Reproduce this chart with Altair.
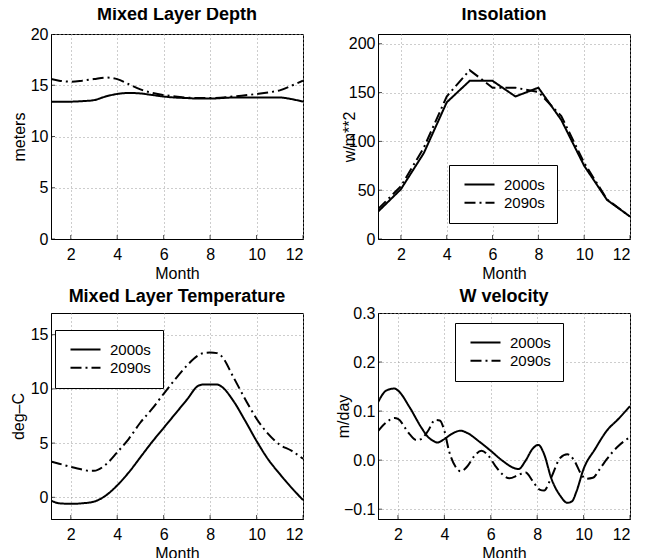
import altair as alt
import pandas as pd

SERIES = ["2000s", "2090s"]

# Mixed Layer Depth (meters)
mld_m_2000 = [1.15, 1.5, 2, 2.5, 3, 3.5, 4, 4.5, 5, 5.5, 6, 6.5, 7, 7.5, 8, 9, 10, 11, 11.5, 12]
mld_v_2000 = [13.4, 13.4, 13.4, 13.45, 13.55, 13.9, 14.15, 14.25, 14.2, 14.05, 13.9, 13.8, 13.75, 13.7, 13.7, 13.8, 13.8, 13.8, 13.65, 13.4]
mld_m_2090 = [1.15, 1.5, 2, 2.5, 3, 3.5, 4, 4.5, 5, 5.5, 6, 6.5, 7, 7.5, 8, 9, 10, 10.5, 11, 11.5, 12]
mld_v_2090 = [15.6, 15.45, 15.35, 15.45, 15.6, 15.75, 15.6, 15.1, 14.6, 14.25, 14.05, 13.9, 13.8, 13.75, 13.75, 13.9, 14.15, 14.3, 14.5, 14.95, 15.45]

# Insolation (w/m**2), monthly
ins_m = [1, 2, 3, 4, 5, 6, 7, 8, 9, 10, 11, 12]
ins_v_2000 = [28, 51, 88, 140, 162, 162, 146, 155, 122, 75, 40, 23]
ins_v_2090 = [30.6, 54, 93.5, 146, 173, 155, 155, 150.5, 126, 78, 40.5, 23]

# Mixed Layer Temperature (deg-C)
mlt_m_2000 = [1.15, 1.5, 2, 2.5, 3, 3.5, 4, 4.5, 5, 5.5, 6, 6.5, 7, 7.5, 7.7, 8, 8.3, 8.5, 9, 9.5, 10, 10.5, 11, 11.5, 12]
mlt_v_2000 = [-0.3, -0.55, -0.6, -0.55, -0.4, 0.15, 1.1, 2.3, 3.7, 5.1, 6.4, 7.7, 9.0, 10.3, 10.4, 10.4, 10.4, 10.2, 8.9, 7.1, 5.2, 3.5, 2.15, 0.9, -0.25]
mlt_m_2090 = [1.15, 1.5, 2, 2.5, 2.8, 3, 3.5, 4, 4.5, 5, 5.5, 6, 6.5, 7, 7.5, 7.7, 8, 8.3, 8.5, 9, 9.5, 10, 10.5, 11, 11.5, 12]
mlt_v_2090 = [3.3, 3.1, 2.8, 2.55, 2.45, 2.45, 3.0, 4.15, 5.4, 6.9, 8.15, 9.55, 10.9, 12.15, 13.1, 13.3, 13.35, 13.3, 13.0, 11.1, 9.1, 7.25, 5.85, 4.85, 4.3, 3.55]

# W velocity (m/day)
w_m_2000 = [1.14, 1.5, 1.85, 2, 2.5, 3, 3.3, 3.5, 3.7, 4, 4.3, 4.7, 5, 5.5, 6, 6.5, 7, 7.2, 7.5, 7.8, 8.05, 8.3, 8.6, 9, 9.3, 9.5, 9.7, 10, 10.5, 11, 11.5, 12]
w_v_2000 = [0.118, 0.142, 0.146, 0.142, 0.108, 0.067, 0.047, 0.040, 0.036, 0.043, 0.053, 0.060, 0.055, 0.038, 0.019, -0.001, -0.016, -0.018, -0.001, 0.023, 0.031, 0.012, -0.036, -0.073, -0.087, -0.084, -0.063, -0.018, 0.023, 0.060, 0.084, 0.110]
w_m_2090 = [1.14, 1.5, 1.85, 2, 2.5, 2.8, 3, 3.3, 3.6, 3.8, 4, 4.2, 4.5, 4.7, 5, 5.3, 5.6, 5.9, 6.2, 6.5, 6.8, 7.2, 7.5, 7.8, 8.1, 8.3, 8.6, 9, 9.3, 9.6, 9.9, 10.1, 10.4, 10.7, 11, 11.5, 12]
w_v_2090 = [0.059, 0.077, 0.086, 0.084, 0.053, 0.041, 0.043, 0.060, 0.082, 0.081, 0.060, 0.019, -0.015, -0.023, -0.012, 0.009, 0.019, 0.009, -0.012, -0.029, -0.037, -0.030, -0.025, -0.042, -0.060, -0.062, -0.036, 0.005, 0.012, -0.001, -0.029, -0.038, -0.036, -0.018, 0.002, 0.029, 0.047]

x_ticks = [2, 4, 6, 8, 10, 12]

FONT = "Liberation Sans"


def frame(m1, v1, m2, v2):
    a = pd.DataFrame({"month": m1, "value": v1, "series": SERIES[0]})
    b = pd.DataFrame({"month": m2, "value": v2, "series": SERIES[1]})
    return pd.concat([a, b], ignore_index=True)


def panel(df, title, ytitle, ydomain, yticks, xdomain, interp, title_offset,
          ytitle_x, legend_xy=None, yfmt="d", w=252, h=205):
    if legend_xy is None:
        legend = None
    else:
        legend = alt.Legend(
            orient="none", legendX=legend_xy[0], legendY=legend_xy[1], title=None,
            strokeColor="black", fillColor="white", padding=12, labelFontSize=15,
            labelFont=FONT, labelColor="black", symbolType="M-3,0H3", symbolSize=100,
            symbolStrokeWidth=2, symbolStrokeColor="black", symbolOffset=11,
            rowPadding=2.3, labelOffset=17,
        )
    xscale = alt.Scale(domain=xdomain, nice=False, zero=False)
    yscale = alt.Scale(domain=ydomain, nice=False, zero=False)
    lines = alt.Chart(df).mark_line(
        color="black", strokeWidth=2, interpolate=interp, clip=True
    ).encode(
        x=alt.X("month:Q", scale=xscale,
                axis=alt.Axis(title="Month", values=x_ticks, format="d")),
        y=alt.Y("value:Q", scale=yscale,
                axis=alt.Axis(title=ytitle, values=yticks, format=yfmt,
                              titleX=ytitle_x, titleBaseline="middle")),
        strokeDash=alt.StrokeDash(
            "series:N",
            scale=alt.Scale(domain=SERIES, range=[[1, 0], [11, 4, 2, 4]]),
            legend=legend,
        ),
    )
    xt = alt.Chart(pd.DataFrame({"month": x_ticks})).mark_tick(
        color="black", size=8, thickness=1, clip=True, orient="vertical"
    ).encode(x=alt.X("month:Q", scale=xscale), y=alt.value(h))
    yt = alt.Chart(pd.DataFrame({"value": yticks})).mark_tick(
        color="black", size=8, thickness=1, clip=True, orient="horizontal"
    ).encode(y=alt.Y("value:Q", scale=yscale), x=alt.value(0))
    return alt.layer(lines, xt, yt).properties(
        width=w, height=h,
        title=alt.TitleParams(title, fontSize=18, fontWeight="bold", font=FONT,
                              baseline="alphabetic", offset=title_offset, color="black"),
    )


p1 = panel(frame(mld_m_2000, mld_v_2000, mld_m_2090, mld_v_2090),
           "Mixed Layer Depth", "meters", [0, 20], [0, 5, 10, 15, 20],
           [1.15, 12], "monotone", -12, -32)
p2 = panel(frame(ins_m, ins_v_2000, ins_m, ins_v_2090),
           "Insolation", "w/m**2", [0, 210], [0, 50, 100, 150, 200],
           [1, 12], "linear", -4, -29, legend_xy=(71, 131))
p3 = panel(frame(mlt_m_2000, mlt_v_2000, mlt_m_2090, mlt_v_2090),
           "Mixed Layer Temperature", "deg\u2013C", [-2, 17], [0, 5, 10, 15],
           [1.15, 12], "monotone", -7, -33, legend_xy=(4, 17), h=206)
p4 = panel(frame(w_m_2000, w_v_2000, w_m_2090, w_v_2090),
           "W velocity", "m/day", [-0.12, 0.3], [-0.1, 0.0, 0.1, 0.2, 0.3],
           [1.14, 12], "monotone", -15, -35, legend_xy=(77, 10), yfmt=".1f", h=206)

chart = alt.concat(
    p1, p2, p3, p4, columns=2, bounds="flush",
    spacing=alt.RowColnumber(row=74, column=75),
).resolve_scale(
    strokeDash="independent"
).resolve_legend(
    strokeDash="independent"
).configure_axis(
    labelFont=FONT, titleFont=FONT, labelFontSize=16, titleFontSize=16,
    titleFontWeight="normal", labelColor="black", titleColor="black",
    domainColor="black", domainWidth=1, ticks=False,
    gridColor="#9a9a9a", gridDash=[1, 3], gridWidth=1,
).configure_axisX(
    labelPadding=7, titlePadding=3,
).configure_axisY(
    labelPadding=3,
).configure_view(
    stroke="black", strokeWidth=1,
).properties(
    padding={"left": 1, "top": -3, "right": 5, "bottom": 5},
    background="white",
)

chart.save("out.html", embed_options={"renderer": "svg", "actions": False})
